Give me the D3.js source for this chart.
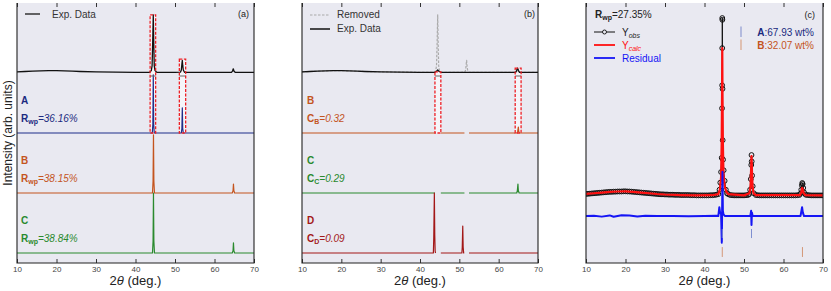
<!DOCTYPE html>
<html>
<head>
<meta charset="utf-8">
<script src="https://cdn.jsdelivr.net/npm/d3@7/dist/d3.min.js"></script>
<style>
  body { margin: 0; background: #fff; }
  text { font-family: "Liberation Sans", Arial, sans-serif; }
</style>
</head>
<body>
<script>
// metrics
const width = 831, height = 291;
const plotTop = 3, plotBottom = 263;
const panels = [{l: 17, r: 254}, {l: 302, r: 538}, {l: 586, r: 823}];
const bg = '#e9e9f1';

// data: 2theta ticks
const tickValues = [10, 20, 30, 40, 50, 60, 70];

// panel (a): experimental pattern and phase patterns [2theta, intensity]
const expData = [[10,0.02],[12,0.025],[14,0.03],[16,0.035],[18,0.04],[20,0.04],[22,0.035],[24,0.03],[26,0.025],[30,0.02],[35,0.015],[40,0.012],[43.6,0.012],[44.0,0.04],[44.2,0.12],[44.35,0.5],[44.5,0.97],[44.62,0.5],[44.75,0.12],[44.95,0.04],[45.4,0.012],[50,0.01],[51.4,0.015],[51.6,0.05],[51.75,0.15],[51.85,0.21],[51.95,0.13],[52.1,0.05],[52.4,0.012],[60,0.01],[64.3,0.01],[64.55,0.03],[64.75,0.07],[64.95,0.03],[65.3,0.01],[70,0.01]];
const phaseA = [[10,0],[44.25,0],[44.4,0.15],[44.5,0.97],[44.6,0.15],[44.75,0],[51.6,0],[51.75,0.08],[51.85,0.42],[51.95,0.08],[52.1,0],[70,0]];
const phaseB = [[10,0],[44.3,0],[44.45,0.2],[44.55,0.97],[44.65,0.2],[44.8,0],[64.5,0],[64.7,0.04],[64.8,0.15],[64.9,0.04],[65.1,0],[70,0]];
const phaseC = [[10,0],[44.3,0],[44.45,0.2],[44.55,1.0],[44.65,0.2],[44.8,0],[64.5,0],[64.7,0.04],[64.8,0.17],[64.9,0.04],[65.1,0],[70,0]];
const boxesA = [[43.7,45.1,3.97],[51.1,52.7,3.23]];
const labelsA = [
  {name: 'A', sub: 'wp', value: '36.16%', offset: 2, color: '#1b2a80'},
  {name: 'B', sub: 'wp', value: '38.15%', offset: 1, color: '#c4541e'},
  {name: 'C', sub: 'wp', value: '38.84%', offset: 0, color: '#2a8a2e'}
];

// panel (b): after removing A peaks
const expRemoved = [[10,0.02],[12,0.025],[14,0.03],[16,0.035],[18,0.04],[20,0.04],[22,0.035],[24,0.03],[26,0.025],[30,0.02],[35,0.015],[40,0.012],[43.8,0.012],[44.2,0.03],[44.5,0.05],[44.8,0.03],[45.3,0.012],[50,0.01],[60,0.01],[64.3,0.01],[64.55,0.04],[64.8,0.08],[65.05,0.04],[65.3,0.01],[70,0.01]];
const phaseB2 = [[10,0],[43.85,0],null,[45.3,0],[51.3,0],null,[52.45,0],[64.7,0],[64.85,0.03],[65.0,0.1],[65.1,0.03],[65.25,0],[70,0]];
const phaseC2 = [[10,0],[43.8,0],null,[45.3,0],[51.3,0],null,[52.45,0],[64.6,0],[64.75,0.04],[64.9,0.15],[65.0,0.04],[65.2,0],[70,0]];
const phaseD = [[10,0],[43.4,0],[43.5,0.25],[43.65,1.0],[43.75,0.3],[43.85,0.03],[43.95,0],null,[45.3,0],[50.65,0],[50.75,0.1],[50.87,0.45],[50.97,0.1],[51.1,0],[51.25,0],null,[52.45,0],[70,0]];
const boxesB = [[43.8,45.3,3.02],[64.2,65.7,3.08]];
const labelsB = [
  {name: 'B', sub: 'B', value: '0.32', offset: 2, color: '#c4541e'},
  {name: 'C', sub: 'C', value: '0.29', offset: 1, color: '#2a8a2e'},
  {name: 'D', sub: 'D', value: '0.09', offset: 0, color: '#a31818'}
];

// panel (c): refinement
const obsData = [[10,0.006],[10.5,0.007],[11,0.008],[11.5,0.009],[12,0.01],[12.5,0.011],[13,0.012],[13.5,0.013],[14,0.014],[14.5,0.015],[15,0.016],[15.5,0.017],[16,0.018],[16.5,0.018],[17,0.019],[17.5,0.019],[18,0.02],[18.5,0.02],[19,0.02],[19.5,0.021],[20,0.021],[20.5,0.02],[21,0.02],[21.5,0.019],[22,0.018],[22.5,0.017],[23,0.016],[23.5,0.015],[24,0.014],[24.5,0.013],[25,0.012],[25.5,0.011],[26,0.01],[26.5,0.009],[27,0.008],[27.5,0.007],[28,0.006],[28.5,0.005],[29,0.004],[29.5,0.004],[30,0.003],[30.5,0.003],[31,0.002],[31.5,0.002],[32,0.002],[32.5,0.001],[33,0.001],[33.5,0.001],[34,0],[34.5,0],[35,0],[35.5,0],[36,0],[36.5,-0.001],[37,-0.001],[37.5,-0.001],[38,-0.002],[38.5,-0.002],[39,-0.002],[39.5,-0.002],[40,-0.002],[40.5,-0.002],[41,-0.002],[41.5,-0.001],[42,-0.001],[42.5,0],[43,0.002],[43.5,0.005],[43.8,0.03],[44.0,0.07],[44.2,0.13],[44.35,0.21],[44.44,0.49],[44.47,0.62],[44.49,0.83],[44.5,1.0],[44.52,0.99],[44.56,0.6],[44.6,0.31],[44.7,0.2],[44.85,0.14],[45.1,0.08],[45.4,0.03],[45.7,0.01],[46,0.005],[46.5,0],[47,-0.001],[47.5,-0.002],[48,-0.002],[48.5,-0.002],[49,-0.002],[49.5,-0.002],[50,-0.002],[50.5,-0.001],[51,0],[51.3,0.005],[51.55,0.03],[51.72,0.09],[51.84,0.17],[51.9,0.226],[51.95,0.19],[52.05,0.11],[52.2,0.05],[52.5,0.01],[53,0],[53.5,-0.001],[54,-0.002],[54.5,-0.002],[55,-0.002],[55.5,-0.002],[56,-0.002],[56.5,-0.002],[57,-0.002],[57.5,-0.002],[58,-0.002],[58.5,-0.002],[59,-0.002],[59.5,-0.002],[60,-0.002],[60.5,-0.002],[61,-0.002],[61.5,-0.002],[62,-0.002],[62.5,-0.002],[63,-0.002],[63.5,-0.001],[64,0],[64.3,0.008],[64.5,0.03],[64.65,0.055],[64.75,0.068],[64.85,0.062],[65.0,0.04],[65.2,0.015],[65.6,0.002],[66,0],[66.5,-0.001],[67,-0.002],[67.5,-0.002],[68,-0.002],[68.5,-0.002],[69,-0.002],[69.5,-0.002],[70,-0.002]];
const calcData = [[10,0.006],[12,0.01],[14,0.014],[16,0.018],[18,0.02],[20,0.021],[22,0.018],[24,0.014],[26,0.01],[28,0.006],[30,0.003],[34,0],[38,-0.002],[42,-0.001],[43.5,0.005],[43.9,0.03],[44.2,0.1],[44.35,0.3],[44.45,0.6],[44.5,0.83],[44.55,0.6],[44.65,0.3],[44.8,0.12],[45.1,0.05],[45.5,0.02],[46,0.005],[50,-0.002],[51.4,0.01],[51.65,0.05],[51.8,0.15],[51.9,0.22],[52.0,0.15],[52.15,0.05],[52.4,0.01],[53,0],[64.2,0],[64.5,0.015],[64.7,0.04],[64.85,0.035],[65.1,0.01],[65.5,0],[70,-0.002]];
const residData = [[10,0],[12,0.002],[14,-0.003],[16,0.004],[17,-0.004],[19,0.005],[21,0.003],[23,-0.002],[25,0.002],[28,0],[32,0.001],[36,-0.001],[40,0.001],[43,0.002],[43.5,0],[43.75,0.05],[43.95,0.02],[44.2,0.01],[44.38,-0.15],[44.45,0],[44.55,0.25],[44.65,0.03],[44.8,0.01],[45.2,0],[48,0.001],[51.6,0],[51.8,0.03],[51.9,-0.05],[52.0,0.02],[52.2,0],[58,0.001],[64.3,0],[64.55,0.03],[64.7,0.05],[64.9,0.02],[65.2,0],[68,0.001],[70,0]];
const braggA = [44.5, 51.9];
const braggB = [44.5, 64.8];

// elements
const svg = d3.select('body').append('svg')
  .attr('width', width)
  .attr('height', height);

// scales
const xScales = panels.map(p => d3.scaleLinear().domain([10, 70]).range([p.l, p.r]));
const yStack = d3.scaleLinear().domain([-1 / 6, 25 / 6]).range([plotBottom, plotTop]);
const yFit = d3.scaleLinear().domain([-0.384, 1.085]).range([plotBottom, plotTop]);

panels.forEach((p, i) => {
  svg.append('rect')
    .attr('x', p.l).attr('y', plotTop)
    .attr('width', p.r - p.l).attr('height', plotBottom - plotTop)
    .attr('fill', bg);
  svg.append('clipPath').attr('id', 'clip' + i)
    .append('rect')
    .attr('x', p.l).attr('y', plotTop)
    .attr('width', p.r - p.l).attr('height', plotBottom - plotTop);
});

const layer = i => svg.append('g').attr('clip-path', `url(#clip${i})`);

const trace = (g, x, y, data, offset, color, w, dash) => {
  const line = d3.line()
    .defined(d => d !== null)
    .x(d => x(d[0]))
    .y(d => y(d[1] + offset));
  return g.append('path')
    .datum(data)
    .attr('d', line)
    .attr('fill', 'none')
    .attr('stroke', color)
    .attr('stroke-width', w)
    .attr('stroke-linejoin', 'round')
    .attr('stroke-dasharray', dash || null);
};

const boxFill = (g, x, boxes, bottomVal) => {
  boxes.forEach(b => {
    g.append('rect')
      .attr('x', x(b[0])).attr('y', yStack(b[2]))
      .attr('width', x(b[1]) - x(b[0]))
      .attr('height', yStack(bottomVal) - yStack(b[2]))
      .attr('fill', '#fff').attr('fill-opacity', 0.55);
  });
};
const boxStroke = (g, x, boxes, bottomVal) => {
  boxes.forEach(b => {
    g.append('line')
      .attr('x1', x(b[0])).attr('x2', x(b[1]))
      .attr('y1', yStack(2.95)).attr('y2', yStack(2.95))
      .attr('stroke', '#666').attr('stroke-width', 1);
    g.append('rect')
      .attr('x', x(b[0])).attr('y', yStack(b[2]))
      .attr('width', x(b[1]) - x(b[0]))
      .attr('height', yStack(bottomVal) - yStack(b[2]))
      .attr('fill', 'none')
      .attr('stroke', '#ee2026').attr('stroke-width', 1.3)
      .attr('stroke-dasharray', '3,1.5');
  });
};

const label = (x0, l, isRwp) => {
  const yBase = yStack(l.offset);
  svg.append('text')
    .attr('x', x0).attr('y', yBase - 29)
    .attr('fill', l.color).attr('font-size', 10).attr('font-weight', 'bold')
    .text(l.name);
  const t = svg.append('text')
    .attr('x', x0).attr('y', yBase - 11)
    .attr('fill', l.color).attr('font-size', 10);
  t.append('tspan').attr('font-weight', 'bold').text(isRwp ? 'R' : 'C');
  t.append('tspan').attr('font-weight', 'bold').attr('font-size', 7).attr('dy', 2).text(l.sub);
  t.append('tspan').attr('font-style', 'italic').attr('dy', -2).text('=' + l.value);
};

// ---- panel (a)
{
  const x = xScales[0], g = layer(0);
  boxFill(g, x, boxesA, 2);
  trace(g, x, yStack, expData, 3, '#111', 1.3);
  trace(g, x, yStack, phaseA, 2, '#1f2f8a', 1.2);
  trace(g, x, yStack, phaseB, 1, '#c4541e', 1.2);
  trace(g, x, yStack, phaseC, 0, '#2a8a2e', 1.2);
  boxStroke(g, x, boxesA, 2);
  labelsA.forEach(l => label(21, l, true));
  svg.append('line').attr('x1', 25).attr('x2', 40).attr('y1', 14).attr('y2', 14)
    .attr('stroke', '#333').attr('stroke-width', 1.5);
  svg.append('text').attr('x', 52).attr('y', 18).attr('font-size', 10).attr('fill', '#333').text('Exp. Data');
  svg.append('text').attr('x', 249).attr('y', 17).attr('font-size', 9).attr('fill', '#222')
    .attr('text-anchor', 'end').text('(a)');
}

// ---- panel (b)
{
  const x = xScales[1], g = layer(1);
  boxFill(g, x, boxesB, 2);
  trace(g, x, yStack, expData, 3, '#aaa', 1.2, '2.5,1.5');
  trace(g, x, yStack, expRemoved, 3, '#111', 1.3);
  trace(g, x, yStack, phaseB2, 2, '#c4541e', 1.2);
  trace(g, x, yStack, phaseC2, 1, '#2a8a2e', 1.2);
  trace(g, x, yStack, phaseD, 0, '#a31818', 1.2);
  boxStroke(g, x, boxesB, 2);
  labelsB.forEach(l => label(307, l, false));
  svg.append('line').attr('x1', 310).attr('x2', 330).attr('y1', 15).attr('y2', 15)
    .attr('stroke', '#aaa').attr('stroke-width', 1.2).attr('stroke-dasharray', '2.5,1.5');
  svg.append('text').attr('x', 337).attr('y', 18).attr('font-size', 10).attr('fill', '#333').text('Removed');
  svg.append('line').attr('x1', 310).attr('x2', 330).attr('y1', 29).attr('y2', 29)
    .attr('stroke', '#111').attr('stroke-width', 1.5);
  svg.append('text').attr('x', 337).attr('y', 32).attr('font-size', 10).attr('fill', '#333').text('Exp. Data');
  svg.append('text').attr('x', 535).attr('y', 17).attr('font-size', 9).attr('fill', '#222')
    .attr('text-anchor', 'end').text('(b)');
}

// ---- panel (c)
{
  const x = xScales[2], g = layer(2);
  const residOffset = -0.119;
  trace(g, x, yFit, obsData, 0, '#111', 1);
  g.selectAll('circle.obs').data(obsData).join('circle')
    .attr('class', 'obs')
    .attr('cx', d => x(d[0])).attr('cy', d => yFit(d[1]))
    .attr('r', 2.4).attr('fill', 'none').attr('stroke', '#111').attr('stroke-width', 1);
  trace(g, x, yFit, calcData, 0, '#ff1010', 2.2);
  trace(g, x, yFit, residData, residOffset, '#1515f5', 2);
  g.selectAll('line.bA').data(braggA).join('line')
    .attr('x1', d => x(d)).attr('x2', d => x(d))
    .attr('y1', yFit(-0.192)).attr('y2', yFit(-0.243))
    .attr('stroke', '#7f8fd0').attr('stroke-width', 1);
  g.selectAll('line.bB').data(braggB).join('line')
    .attr('x1', d => x(d)).attr('x2', d => x(d))
    .attr('y1', yFit(-0.294)).attr('y2', yFit(-0.350))
    .attr('stroke', '#d49878').attr('stroke-width', 1);

  const rw = svg.append('text').attr('x', 595).attr('y', 18).attr('font-size', 10).attr('fill', '#222');
  rw.append('tspan').attr('font-weight', 'bold').text('R');
  rw.append('tspan').attr('font-weight', 'bold').attr('font-size', 7).attr('dy', 2).text('wp');
  rw.append('tspan').attr('dy', -2).text('=27.35%');

  const leg = [
    {main: 'Y', sub: 'obs', color: '#111', text: '#222', marker: true},
    {main: 'Y', sub: 'calc', color: '#ff1010', text: '#ff1010'},
    {main: 'Residual', sub: '', color: '#1515f5', text: '#1515f5'}
  ];
  leg.forEach((d, i) => {
    const yy = 32 + i * 13;
    svg.append('line').attr('x1', 594).attr('x2', 615).attr('y1', yy).attr('y2', yy)
      .attr('stroke', d.color).attr('stroke-width', d.marker ? 1 : 1.8);
    if (d.marker) {
      svg.append('circle').attr('cx', 604.5).attr('cy', yy).attr('r', 2)
        .attr('fill', bg).attr('stroke', d.color).attr('stroke-width', 0.9);
    }
    const t = svg.append('text').attr('x', 622).attr('y', yy + 3.5).attr('font-size', 10).attr('fill', d.text);
    t.append('tspan').text(d.main);
    if (d.sub) t.append('tspan').attr('font-size', 7).attr('font-style', 'italic').attr('dy', 2).text(d.sub);
  });

  const phaseLeg = [
    {name: 'A', value: ':67.93 wt%', color: '#1b2a80', tick: '#8f9bd2'},
    {name: 'B', value: ':32.07 wt%', color: '#c4541e', tick: '#d9a488'}
  ];
  phaseLeg.forEach((d, i) => {
    const yy = 32 + i * 13;
    svg.append('line').attr('x1', 741).attr('x2', 741).attr('y1', yy - 5.5).attr('y2', yy + 5)
      .attr('stroke', d.tick).attr('stroke-width', 1.2);
    const t = svg.append('text').attr('x', 814).attr('y', yy + 3.5).attr('font-size', 10)
      .attr('fill', d.color).attr('text-anchor', 'end');
    t.append('tspan').attr('font-weight', 'bold').text(d.name);
    t.append('tspan').text(d.value);
  });
  svg.append('text').attr('x', 815).attr('y', 18).attr('font-size', 9).attr('fill', '#222')
    .attr('text-anchor', 'end').text('(c)');
}

// ---- axes and spines
panels.forEach((p, i) => {
  const x = xScales[i];
  const bAxis = svg.append('g')
    .attr('transform', `translate(0, ${plotBottom})`)
    .call(d3.axisBottom(x).tickValues(tickValues).tickSizeInner(-4).tickSizeOuter(0).tickPadding(3));
  bAxis.select('.domain').remove();
  bAxis.selectAll('text').attr('font-size', 8).attr('fill', '#444')
    .style('font-family', '"Liberation Sans", Arial, sans-serif');
  bAxis.selectAll('line').attr('stroke', '#333');
  const tAxis = svg.append('g')
    .attr('transform', `translate(0, ${plotTop})`)
    .call(d3.axisTop(x).tickValues(tickValues).tickSizeInner(-4).tickSizeOuter(0).tickFormat(''));
  tAxis.select('.domain').remove();
  tAxis.selectAll('line').attr('stroke', '#333');

  svg.append('path')
    .attr('d', `M${p.l},${plotTop}V${plotBottom}H${p.r}V${plotTop}`)
    .attr('fill', 'none').attr('stroke', '#222').attr('stroke-width', 1.1);

  const xl = svg.append('text')
    .attr('x', (p.l + p.r) / 2).attr('y', 285)
    .attr('text-anchor', 'middle').attr('font-size', 13).attr('fill', '#222');
  xl.append('tspan').text('2');
  xl.append('tspan').attr('font-style', 'italic').text('θ');
  xl.append('tspan').text(' (deg.)');
});

svg.append('text')
  .attr('transform', `translate(12, ${(plotTop + plotBottom) / 2}) rotate(-90)`)
  .attr('text-anchor', 'middle').attr('font-size', 12).attr('fill', '#222')
  .text('Intensity (arb. units)');
</script>
</body>
</html>
